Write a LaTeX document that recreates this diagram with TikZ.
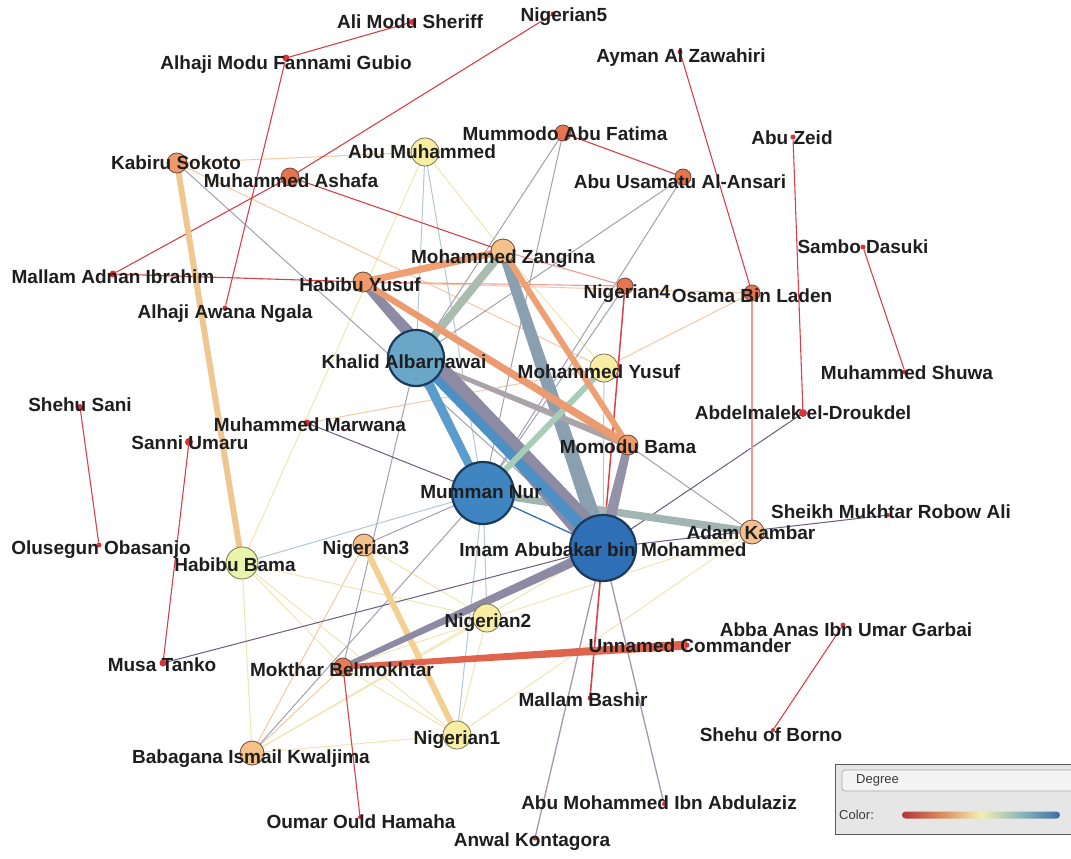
\documentclass[tikz,border=0pt]{standalone}
\usepackage{fontspec}
\setmainfont{Liberation Sans}
\usetikzlibrary{calc}
\pgfdeclarelayer{bg}
\pgfdeclarelayer{edges}
\pgfsetlayers{bg,edges,main}

% node fills
\definecolor{cDot}{HTML}{D8343C}
\definecolor{cRO}{HTML}{E5744F}
\definecolor{cOr}{HTML}{EF9A6A}
\definecolor{cLO}{HTML}{F5C18A}
\definecolor{cYel}{HTML}{F8EDA2}
\definecolor{cLG}{HTML}{E8F3AB}
\definecolor{cKh}{HTML}{6AA6C8}
\definecolor{cNur}{HTML}{3F85C1}
\definecolor{cImam}{HTML}{2E6FB5}
\definecolor{cBdS}{HTML}{6B4A3A}
\definecolor{cBdY}{HTML}{7A7456}
\definecolor{cBdB}{HTML}{1B3A5A}
\definecolor{cLabel}{HTML}{1E1E1E}
% thin edge colours
\definecolor{cRed}{HTML}{D9414A}
\definecolor{cRedL}{HTML}{EE9A94}
\definecolor{cOrL}{HTML}{F4C9A4}
\definecolor{cYelL}{HTML}{F1E6B2}
\definecolor{cBluL}{HTML}{B3C8D6}
\definecolor{cGry}{HTML}{A3A0B2}
\definecolor{cPur}{HTML}{6C5C7E}
\definecolor{cMauve}{HTML}{AB93AF}
% heavy edge colours
\definecolor{cTkGP}{HTML}{8D8BA4}
\definecolor{cTkGP2}{HTML}{9392A9}
\definecolor{cTkBl}{HTML}{4C90C6}
\definecolor{cTkBl2}{HTML}{5A9DCC}
\definecolor{cTkSl}{HTML}{8AA0B1}
\definecolor{cTkGG}{HTML}{A9BCAE}
\definecolor{cTkOr}{HTML}{EEA073}
\definecolor{cTkOr2}{HTML}{EC9B70}
\definecolor{cTkGr}{HTML}{AAA4A8}
\definecolor{cTkTe}{HTML}{A7CDB9}
\definecolor{cTkGT}{HTML}{A3B5B3}
\definecolor{cTkRd}{HTML}{E0644D}
\definecolor{cTkLO}{HTML}{F3CF91}
\definecolor{cTkLO2}{HTML}{F0C790}
% legend
\definecolor{cLegBg}{HTML}{E6E6E6}
\definecolor{cLegBd}{HTML}{5A5A5A}
\definecolor{cLegFd}{HTML}{F4F4F4}
\definecolor{cLegTx}{HTML}{3A3A3A}
\definecolor{gA}{HTML}{B5353A}
\definecolor{gB}{HTML}{DA8C5C}
\definecolor{gC}{HTML}{F2EFB0}
\definecolor{gD}{HTML}{8EB7B9}
\definecolor{gE}{HTML}{3A6EA5}
\pgfdeclarehorizontalshading{degbar}{100bp}{color(0bp)=(gA); color(25bp)=(gA); color(37.5bp)=(gB); color(50bp)=(gC); color(62.5bp)=(gD); color(75bp)=(gE); color(100bp)=(gE)}

% heavy edge drawn as a band whose half-width goes from #3 at #1 to #4 at #2
\newcommand\wedgeedge[5]{%
  \fill[#5] ($(#1.center)!#3!90:(#2.center)$) -- ($(#2.center)!#4!-90:(#1.center)$)
    -- ($(#2.center)!#4!90:(#1.center)$) -- ($(#1.center)!#3!-90:(#2.center)$) -- cycle;}

\tikzset{
  dot/.style={circle, fill=cDot, inner sep=0pt, minimum size=#1},
  nd/.style={circle, draw=cBdS, line width=0.8pt, inner sep=0pt, minimum size=#1},
  ndy/.style={circle, draw=cBdY, line width=0.8pt, inner sep=0pt, minimum size=#1},
  big/.style={circle, draw=cBdB, line width=2.2pt, inner sep=0pt, minimum size=#1},
  lbl/.style={font=\bfseries\fontsize{19}{19}\selectfont, text=cLabel, inner sep=0pt,
    text height=13.6pt, text depth=0pt, anchor=center},
  eR/.style={draw=cRed, line width=1.1pt},
  eRl/.style={draw=cRedL, line width=1.1pt},
  eO/.style={draw=cOrL, line width=1pt},
  eY/.style={draw=cYelL, line width=1pt},
  eB/.style={draw=cBluL, line width=1pt},
  eG/.style={draw=cGry, line width=1pt},
  eP/.style={draw=cPur, line width=1pt},
  eM/.style={draw=cMauve, line width=1.3pt},
}

\begin{document}
\begin{tikzpicture}[x=1pt, y=-1pt]
\useasboundingbox (0,0) rectangle (1071,859);
\begin{pgfonlayer}{bg}
  \fill[white] (0,0) rectangle (1071,859);
\end{pgfonlayer}
\clip (0,0) rectangle (1071,859);

% ---------- vertices ----------
% degree-one actors
\node[dot=6pt] (ams) at (412,22) {};
\node[dot=5pt] (nig5) at (553,14) {};
\node[dot=7pt] (gubio) at (286,58) {};
\node[dot=5pt] (zawahiri) at (680,52) {};
\node[dot=5pt] (zeid) at (793,137) {};
\node[dot=5pt] (dasuki) at (863,247) {};
\node[dot=5pt] (shuwa) at (905,372) {};
\node[dot=8pt] (droukdel) at (803,413) {};
\node[dot=7pt] (adnan) at (113,274) {};
\node[dot=5pt] (ngala) at (225,308) {};
\node[dot=7pt] (marwana) at (307,423) {};
\node[dot=6pt] (sani) at (80,407) {};
\node[dot=8pt] (umaru) at (189,442) {};
\node[dot=5pt] (obasanjo) at (99,545) {};
\node[dot=7pt] (tanko) at (163,663) {};
\node[dot=4pt] (hamaha) at (360,817) {};
\node[dot=5pt] (bashir) at (590,698) {};
\node[dot=5pt] (unnamed) at (687,645) {};
\node[dot=5pt] (garbai) at (843,625) {};
\node[dot=4pt] (borno) at (773,730) {};
\node[dot=4pt] (abdulaziz) at (664,804) {};
\node[dot=5pt] (kontagora) at (535,838) {};
\node[dot=4pt] (sheikh) at (888,515) {};
% weighted actors
\node[nd=16pt, fill=cRO] (osama) at (752,293) {};
\node[nd=16pt, fill=cRO] (usamatu) at (683,177) {};
\node[nd=16pt, fill=cRO] (fatima) at (563,133) {};
\node[nd=16pt, fill=cRO] (nig4) at (625,286) {};
\node[nd=18pt, fill=cRO] (ashafa) at (290,177) {};
\node[nd=18pt, fill=cRO!80!cOr] (mokthar) at (343,667) {};
\node[nd=20pt, fill=cOr] (kabiru) at (177,163) {};
\node[nd=20pt, fill=cOr] (hyusuf) at (363,282) {};
\node[nd=20pt, fill=cOr] (momodu) at (628,445) {};
\node[nd=24pt, fill=cLO] (zangina) at (503,251) {};
\node[nd=22pt, fill=cLO] (nig3) at (364,545) {};
\node[nd=24pt, fill=cLO] (adam) at (752,532) {};
\node[nd=24pt, fill=cLO] (babagana) at (252,753) {};
\node[ndy=28pt, fill=cYel] (abumuh) at (425,152) {};
\node[ndy=28pt, fill=cYel] (yusuf) at (604,368) {};
\node[ndy=28pt, fill=cYel] (nig2) at (487,618) {};
\node[ndy=28pt, fill=cYel] (nig1) at (457,735) {};
\node[ndy=32pt, fill=cLG] (hbama) at (242,563) {};
\node[big=56pt, fill=cKh] (khalid) at (416,358) {};
\node[big=62pt, fill=cNur] (nur) at (483,493) {};
\node[big=66pt, fill=cImam] (imam) at (603,548) {};

% ---------- ties ----------
\begin{pgfonlayer}{edges}
  % light ties
  \draw[eY] (abumuh.center) -- (zangina.center);
  \draw[eY] (abumuh.center) -- (hbama.center);
  \draw[eY] (zangina.center) -- (yusuf.center);
  \draw[eY] (hbama.center) -- (nig2.center);
  \draw[eY] (hbama.center) -- (nig1.center);
  \draw[eY] (hbama.center) -- (babagana.center);
  \draw[eY] (hbama.center) -- (mokthar.center);
  \draw[eY] (nig3.center) -- (nig2.center);
  \draw[eY] (nig2.center) -- (nig1.center);
  \draw[eY] (nig2.center) -- (babagana.center);
  \draw[eY] (mokthar.center) -- (nig1.center);
  \draw[eY] (nig1.center) -- (babagana.center);
  \draw[eY] (adam.center) -- (nig1.center);
  \draw[eY] (adam.center) -- (mokthar.center);
  \draw[eY] (imam.center) -- (babagana.center);
  \draw[eO] (osama.center) -- (yusuf.center);
  \draw[eO] (hyusuf.center) -- (osama.center);
  \draw[eO] (kabiru.center) -- (abumuh.center);
  \draw[eO] (kabiru.center) -- (yusuf.center);
  \draw[eO] (marwana.center) -- (yusuf.center);
  \draw[eO] (nig3.center) -- (babagana.center);
  \draw[eO] (mokthar.center) -- (babagana.center);
  \draw[eB] (abumuh.center) -- (khalid.center);
  \draw[eB] (abumuh.center) -- (nur.center);
  \draw[eB] (hbama.center) -- (nur.center);
  \draw[eB] (nur.center) -- (nig2.center);
  \draw[eB] (nur.center) -- (nig1.center);
  \draw[eB] (yusuf.center) -- (imam.center);
  \draw[eG] (kabiru.center) -- (imam.center);
  \draw[eG] (fatima.center) -- (khalid.center);
  \draw[eG] (fatima.center) -- (nur.center);
  \draw[eG] (usamatu.center) -- (khalid.center);
  \draw[eG] (usamatu.center) -- (nur.center);
  \draw[eG] (nig4.center) -- (nur.center);
  \draw[eG] (momodu.center) -- (adam.center);
  \draw[eG] (nig3.center) -- (nur.center);
  \draw[eG] (nur.center) -- (babagana.center);
  \draw[eG] (khalid.center) -- (mokthar.center);
  \draw[eP] (marwana.center) -- (nur.center);
  \draw[eP] (tanko.center) -- (imam.center);
  \draw[eP] (droukdel.center) -- (imam.center);
  \draw[eP] (imam.center) -- (sheikh.center);
  \draw[draw=cImam, line width=1.3pt] (nur.center) -- (imam.center);
  \draw[eM] (imam.center) -- (abdulaziz.center);
  \draw[eM] (imam.center) -- (kontagora.center);
  % single ties
  \draw[eR] (ams) -- (gubio);
  \draw[eR] (gubio) -- (ngala);
  \draw[eR] (nig5) -- (ashafa.center);
  \draw[eR] (ashafa.center) -- (adnan);
  \draw[eR] (adnan) -- (hyusuf.center);
  \draw[eRl] (hyusuf.center) -- (nig4.center);
  \draw[eR] (ashafa.center) -- (zangina.center);
  \draw[eR] (fatima.center) -- (usamatu.center);
  \draw[eRl] (zangina.center) -- (nig4.center);
  \draw[eR] (zawahiri) -- (osama.center);
  \draw[eR] (zeid) -- (droukdel);
  \draw[eR] (dasuki) -- (shuwa);
  \draw[eRl] (osama.center) -- (adam.center);
  \draw[eR, line width=1.5pt] (nig4.center) -- (imam.center);
  \draw[eR, line width=1.6pt] (imam.center) -- (bashir);
  \draw[eR] (sani) -- (obasanjo);
  \draw[eR] (umaru) -- (tanko);
  \draw[eR] (mokthar.center) -- (hamaha);
  \draw[eR] (garbai) -- (borno);
  % heavy ties
  \wedgeedge{kabiru}{hbama}{3pt}{3pt}{cTkLO2}
  \wedgeedge{nig3}{nig1}{3pt}{3pt}{cTkLO}
  \wedgeedge{imam}{mokthar}{5pt}{2.5pt}{cTkGP}
  \wedgeedge{mokthar}{unnamed}{2.5pt}{4.5pt}{cTkRd}
  \wedgeedge{nur}{adam}{3.5pt}{4pt}{cTkGT}
  \wedgeedge{momodu}{imam}{4pt}{6pt}{cTkGP2}
  \wedgeedge{zangina}{imam}{5pt}{8pt}{cTkSl}
  \wedgeedge{khalid}{momodu}{2pt}{3.5pt}{cTkGr}
  \wedgeedge{hyusuf}{imam}{4pt}{14pt}{cTkGP}
  \wedgeedge{khalid}{imam}{4pt}{6pt}{cTkBl}
  \wedgeedge{khalid}{nur}{5pt}{4pt}{cTkBl2}
  \wedgeedge{yusuf}{nur}{3pt}{3pt}{cTkTe}
  \wedgeedge{zangina}{khalid}{4pt}{4pt}{cTkGG}
  \wedgeedge{hyusuf}{momodu}{3pt}{4pt}{cTkOr2}
  \wedgeedge{zangina}{momodu}{3pt}{3pt}{cTkOr}
  \wedgeedge{zangina}{hyusuf}{3.5pt}{3.5pt}{cTkOr}
\end{pgfonlayer}

% ---------- names ----------
\node[lbl] (l-ams) at (410,22) {Ali Modu Sheriff};
\node[lbl] (l-nig5) at (564,15) {Nigerian5};
\node[lbl] (l-gubio) at (286,63) {Alhaji Modu Fannami Gubio};
\node[lbl] (l-zawahiri) at (681,56) {Ayman Al Zawahiri};
\node[lbl] (l-zeid) at (792,138) {Abu Zeid};
\node[lbl] (l-dasuki) at (863,247) {Sambo Dasuki};
\node[lbl] (l-shuwa) at (907,373) {Muhammed Shuwa};
\node[lbl] (l-droukdel) at (803,413) {Abdelmalek el-Droukdel};
\node[lbl] (l-osama) at (752,296) {Osama Bin Laden};
\node[lbl] (l-usamatu) at (680,182) {Abu Usamatu Al-Ansari};
\node[lbl] (l-fatima) at (565,134) {Mummodo Abu Fatima};
\node[lbl] (l-abumuh) at (422,152) {Abu Muhammed};
\node[lbl] (l-kabiru) at (176,163) {Kabiru Sokoto};
\node[lbl] (l-ashafa) at (291,181) {Muhammed Ashafa};
\node[lbl] (l-adnan) at (113,277) {Mallam Adnan Ibrahim};
\node[lbl] (l-ngala) at (225,312) {Alhaji Awana Ngala};
\node[lbl] (l-hyusuf) at (360,285) {Habibu Yusuf};
\node[lbl] (l-zangina) at (503,257) {Mohammed Zangina};
\node[lbl] (l-nig4) at (627,292) {Nigerian4};
\node[lbl] (l-khalid) at (404,362) {Khalid Albarnawai};
\node[lbl] (l-yusuf) at (599,372) {Mohammed Yusuf};
\node[lbl] (l-momodu) at (628,447) {Momodu Bama};
\node[lbl] (l-marwana) at (310,425) {Muhammed Marwana};
\node[lbl] (l-sani) at (80,405) {Shehu Sani};
\node[lbl] (l-umaru) at (190,443) {Sanni Umaru};
\node[lbl] (l-obasanjo) at (101,548) {Olusegun Obasanjo};
\node[lbl] (l-hbama) at (235,565) {Habibu Bama};
\node[lbl] (l-nur) at (481,492) {Mumman Nur};
\node[lbl] (l-imam) at (603,550) {Imam Abubakar bin Mohammed};
\node[lbl] (l-adam) at (751,533) {Adam Kambar};
\node[lbl] (l-sheikh) at (891,512) {Sheikh Mukhtar Robow Ali};
\node[lbl] (l-nig3) at (366,548) {Nigerian3};
\node[lbl] (l-nig2) at (488,621) {Nigerian2};
\node[lbl] (l-tanko) at (162,665) {Musa Tanko};
\node[lbl] (l-mokthar) at (342,670) {Mokthar Belmokhtar};
\node[lbl] (l-unnamed) at (690,646) {Unnamed Commander};
\node[lbl] (l-garbai) at (846,630) {Abba Anas Ibn Umar Garbai};
\node[lbl] (l-bashir) at (583,700) {Mallam Bashir};
\node[lbl] (l-borno) at (771,735) {Shehu of Borno};
\node[lbl] (l-nig1) at (457,738) {Nigerian1};
\node[lbl] (l-babagana) at (251,757) {Babagana Ismail Kwaljima};
\node[lbl] (l-hamaha) at (361,822) {Oumar Ould Hamaha};
\node[lbl] (l-abdulaziz) at (659,803) {Abu Mohammed Ibn Abdulaziz};
\node[lbl] (l-kontagora) at (532,840) {Anwal Kontagora};

% ---------- colour key ----------
\filldraw[fill=cLegBg, draw=cLegBd, line width=1pt] (835,764) rectangle (1080,834);
\filldraw[fill=cLegFd, draw=black!35, line width=0.7pt, rounded corners=3pt] (842,770) rectangle (1085,791);
\node[anchor=west, inner sep=0pt, font=\fontsize{13}{13}\selectfont, text=cLegTx] (keyname) at (856,780.5) {Degree};
\node[anchor=west, inner sep=0pt, font=\fontsize{13}{13}\selectfont, text=cLegTx] (keycolor) at (839,815) {Color:};
\shade[shading=degbar, rounded corners=3.5pt] (902,811.5) rectangle (1060,818.5);
\end{tikzpicture}
\end{document}
